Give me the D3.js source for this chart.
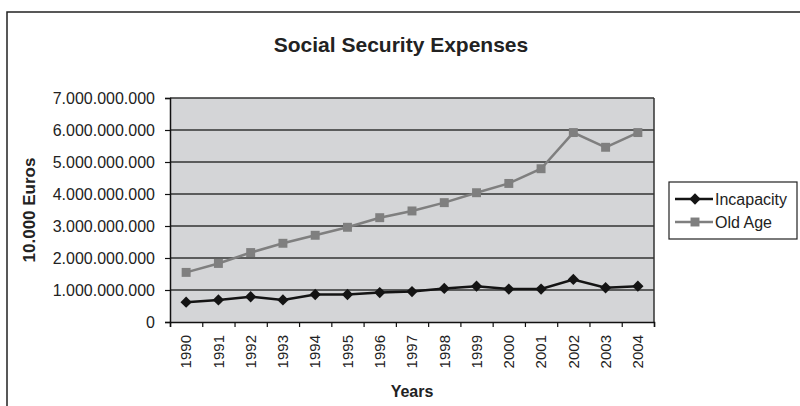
<!DOCTYPE html>
<html>
<head>
<meta charset="utf-8">
<script src="https://cdn.jsdelivr.net/npm/d3@7"></script>
<style>
  body { margin: 0; background: #fff; }
  svg { display: block; font-family: Arial, "Liberation Sans", sans-serif; }
</style>
</head>
<body>
<svg id="chart" width="800" height="406"></svg>
<script>
// data
const YEARS = ['1990', '1991', '1992', '1993', '1994', '1995', '1996', '1997',
    '1998', '1999', '2000', '2001', '2002', '2003', '2004'];
const INCAPACITY = [0.62, 0.69, 0.79, 0.69, 0.86, 0.86, 0.92, 0.95,
    1.05, 1.12, 1.03, 1.03, 1.33, 1.07, 1.12].map(v => v * 1e9);
const OLD_AGE = [1.55, 1.83, 2.17, 2.46, 2.71, 2.96, 3.26, 3.47,
    3.73, 4.04, 4.33, 4.79, 5.92, 5.46, 5.92].map(v => v * 1e9);
const Y_TICKS = [0, 1e9, 2e9, 3e9, 4e9, 5e9, 6e9, 7e9];

const SVG1 = d3.select('#chart');
const PLOT = { left: 170, right: 654, top: 98, bottom: 322 };

// european style thousands
const LOCALE = d3.formatLocale({ decimal: ',', thousands: '.', grouping: [3], currency: ['', '€'] });
const FMT = LOCALE.format(',d');

// outer frame
SVG1.append('rect')
    .attr('x', 7).attr('y', 12)
    .attr('width', 800).attr('height', 410)
    .style('fill', 'none')
    .style('stroke', '#222')
    .style('stroke-width', 1.5);

SVG1.append('text')
    .attr('x', 401).attr('y', 52)
    .attr('text-anchor', 'middle')
    .style('font-size', '21px')
    .style('font-weight', 'bold')
    .style('fill', '#222')
    .text('Social Security Expenses');

const X_SCALE = d3.scaleBand().domain(YEARS).range([PLOT.left, PLOT.right]);
const Y_SCALE = d3.scaleLinear().domain([0, 7e9]).range([PLOT.bottom, PLOT.top]);

// plot background
SVG1.append('rect')
    .attr('x', PLOT.left).attr('y', PLOT.top)
    .attr('width', PLOT.right - PLOT.left)
    .attr('height', PLOT.bottom - PLOT.top)
    .style('fill', '#d4d5d7');

// gridlines
SVG1.append('g')
    .selectAll('line')
    .data(Y_TICKS.slice(1))
    .join('line')
    .attr('x1', PLOT.left).attr('x2', PLOT.right)
    .attr('y1', d => Y_SCALE(d)).attr('y2', d => Y_SCALE(d))
    .style('stroke', '#333')
    .style('stroke-width', 1.5);

// right border of plot
SVG1.append('line')
    .attr('x1', PLOT.right).attr('x2', PLOT.right)
    .attr('y1', PLOT.top).attr('y2', PLOT.bottom)
    .style('stroke', '#333')
    .style('stroke-width', 1.5);

// y axis
const Y_AXIS = d3.axisLeft(Y_SCALE).tickValues(Y_TICKS).tickSize(5).tickPadding(10).tickFormat(FMT);
const Y_GROUP = SVG1.append('g').attr('transform', `translate(${PLOT.left},0)`);
Y_AXIS(Y_GROUP);
Y_GROUP.select('.domain').style('stroke', '#111').style('stroke-width', 1.5);
Y_GROUP.selectAll('.tick line').style('stroke', '#111').style('stroke-width', 1.2);
Y_GROUP.selectAll('text')
    .style('font-size', '16px')
    .style('font-family', 'Arial, "Liberation Sans", sans-serif')
    .style('fill', '#222');

// x axis: ticks at category boundaries
const BOUNDS = d3.scaleLinear().domain([0, YEARS.length]).range([PLOT.left, PLOT.right]);
const X_TICKS = d3.axisBottom(BOUNDS).ticks(YEARS.length).tickSize(5).tickFormat('');
const X_TICK_GROUP = SVG1.append('g').attr('transform', `translate(0,${PLOT.bottom})`);
X_TICKS(X_TICK_GROUP);
X_TICK_GROUP.select('.domain').style('stroke', '#111').style('stroke-width', 1.5);
X_TICK_GROUP.selectAll('.tick line').style('stroke', '#111').style('stroke-width', 1.2);

// x labels, rotated
const X_AXIS = d3.axisBottom(X_SCALE).tickSize(0).tickPadding(0);
const X_GROUP = SVG1.append('g').attr('transform', `translate(0,${PLOT.bottom})`);
X_AXIS(X_GROUP);
X_GROUP.select('.domain').remove();
X_GROUP.selectAll('text')
    .attr('transform', 'rotate(-90)')
    .attr('x', -13)
    .attr('y', 0)
    .attr('dy', '0.35em')
    .style('text-anchor', 'end')
    .style('font-size', '15px')
    .style('font-family', 'Arial, "Liberation Sans", sans-serif')
    .style('fill', '#222');

// axis titles
SVG1.append('text')
    .attr('transform', `translate(35,${(PLOT.top + PLOT.bottom) / 2}) rotate(-90)`)
    .attr('text-anchor', 'middle')
    .style('font-size', '17px')
    .style('font-weight', 'bold')
    .style('fill', '#222')
    .text('10.000 Euros');

SVG1.append('text')
    .attr('x', (PLOT.left + PLOT.right) / 2).attr('y', 397)
    .attr('text-anchor', 'middle')
    .style('font-size', '16px')
    .style('font-weight', 'bold')
    .style('fill', '#222')
    .text('Years');

const LINE = d3.line()
    .x((d, i) => X_SCALE(YEARS[i]) + X_SCALE.bandwidth() / 2)
    .y(d => Y_SCALE(d));

// diamond = square turned 45 degrees
const SERIES = [
    { name: 'Incapacity', values: INCAPACITY, color: '#141414', size: 64, rotate: 45 },
    { name: 'Old Age', values: OLD_AGE, color: '#7f7f7f', size: 80, rotate: 0 }
];

// draw old age first so incapacity sits on top
SERIES.slice().reverse().forEach(s => {
    SVG1.append('path')
        .datum(s.values)
        .attr('d', LINE)
        .style('fill', 'none')
        .style('stroke', s.color)
        .style('stroke-width', 2.5);

    SVG1.append('g')
        .selectAll('path')
        .data(s.values)
        .join('path')
        .attr('transform', (d, i) => `translate(${X_SCALE(YEARS[i]) + X_SCALE.bandwidth() / 2},${Y_SCALE(d)}) rotate(${s.rotate})`)
        .attr('d', d3.symbol(d3.symbolSquare, s.size))
        .style('fill', s.color);
});

// legend
const LEGEND = SVG1.append('g').attr('transform', 'translate(669,182)');
LEGEND.append('rect')
    .attr('width', 128).attr('height', 57)
    .style('fill', '#fff')
    .style('stroke', '#222')
    .style('stroke-width', 1.2);

const ITEMS = LEGEND.selectAll('g.item')
    .data(SERIES)
    .join('g')
    .attr('class', 'item')
    .attr('transform', (d, i) => `translate(0,${17 + i * 23})`);

ITEMS.append('line')
    .attr('x1', 6).attr('x2', 44)
    .style('stroke', d => d.color)
    .style('stroke-width', 2.5);

ITEMS.append('path')
    .attr('transform', d => `translate(26,0) rotate(${d.rotate})`)
    .attr('d', d => d3.symbol(d3.symbolSquare, d.size)())
    .style('fill', d => d.color);

ITEMS.append('text')
    .attr('x', 46)
    .attr('dy', '0.35em')
    .style('font-size', '16px')
    .style('fill', '#222')
    .text(d => d.name);
</script>
</body>
</html>
